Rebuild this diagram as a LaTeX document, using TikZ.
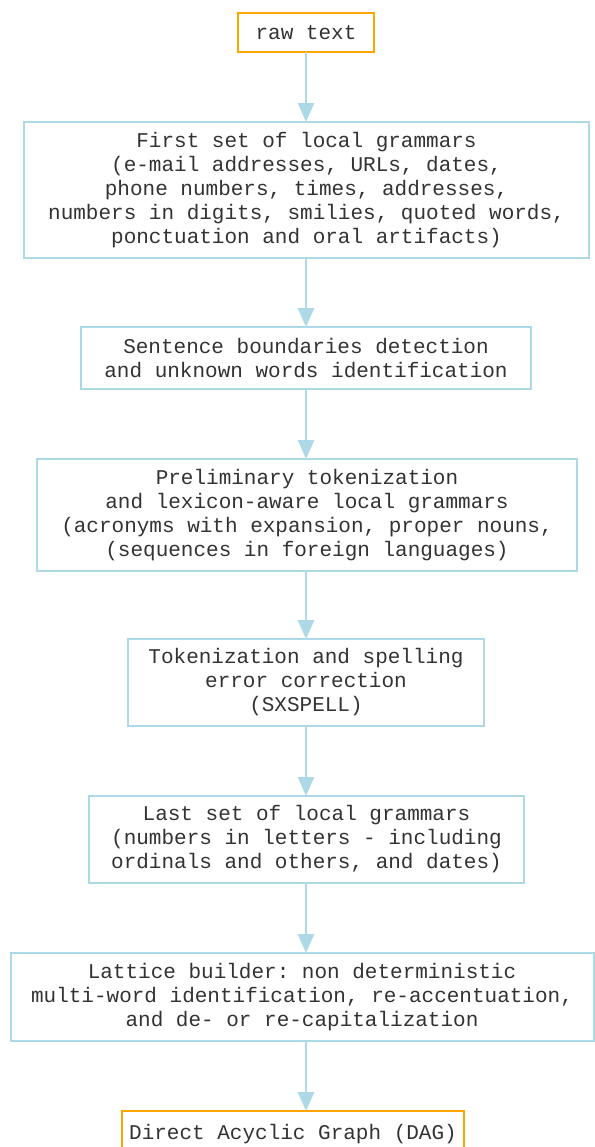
\documentclass[tikz,border=0pt]{standalone}
\usepackage{fontspec}
\setmonofont{Liberation Mono}
\usetikzlibrary{arrows.meta}
\definecolor{boxblue}{HTML}{ADD8E6}
\definecolor{boxorange}{HTML}{FFA500}
\begin{document}
\begin{tikzpicture}[x=1pt,y=-1pt,
  every node/.style={font=\ttfamily\fontsize{21}{24}\selectfont, align=center,
    text=black!80, inner sep=0pt, outer sep=0pt},
  stage/.style={draw=boxblue, line width=2pt, fill=white},
  endpoint/.style={draw=boxorange, line width=2pt, fill=white},
  flow/.style={draw=boxblue, line width=2.8pt,
    -{Triangle[length=19pt,width=16pt]}}]
\useasboundingbox (0,0) rectangle (594,1147);

\node[endpoint, minimum width=136pt, minimum height=39pt] (raw) at (306,32.5) {raw text};

\node[stage, minimum width=565pt, minimum height=136pt] (first) at (306.5,190)
  {First set of local grammars\\(e-mail addresses, URLs, dates,\\phone numbers, times, addresses,\\numbers in digits, smilies, quoted words,\\ponctuation and oral artifacts)};

\node[stage, minimum width=450pt, minimum height=62pt] (sent) at (306,358)
  {Sentence boundaries detection\\and unknown words identification};

\node[stage, minimum width=540pt, minimum height=112pt] (prelim) at (307,515)
  {Preliminary tokenization\\and lexicon-aware local grammars\\(acronyms with expansion, proper nouns,\\(sequences in foreign languages)};

\node[stage, minimum width=356pt, minimum height=87pt] (tok) at (306,682.5)
  {Tokenization and spelling\\error correction\\(SXSPELL)};

\node[stage, minimum width=435pt, minimum height=87pt] (last) at (306.5,839.5)
  {Last set of local grammars\\(numbers in letters - including\\ordinals and others, and dates)};

\node[stage, minimum width=583pt, minimum height=88pt] (lattice) at (302,997)
  {Lattice builder: non deterministic\\multi-word identification, re-accentuation,\\and de- or re-capitalization};

\node[endpoint, minimum width=342pt, minimum height=46pt] (dag) at (293,1134)
  {Direct Acyclic Graph (DAG)};

\draw[flow] (raw.south -| 306,0) -- (306,122);
\draw[flow] (first.south -| 306,0) -- (sent.north -| 306,0);
\draw[flow] (sent.south -| 306,0) -- (prelim.north -| 306,0);
\draw[flow] (prelim.south -| 306,0) -- (tok.north -| 306,0);
\draw[flow] (tok.south -| 306,0) -- (last.north -| 306,0);
\draw[flow] (last.south -| 306,0) -- (lattice.north -| 306,0);
\draw[flow] (lattice.south -| 306,0) -- (dag.north -| 306,0);
\end{tikzpicture}
\end{document}
